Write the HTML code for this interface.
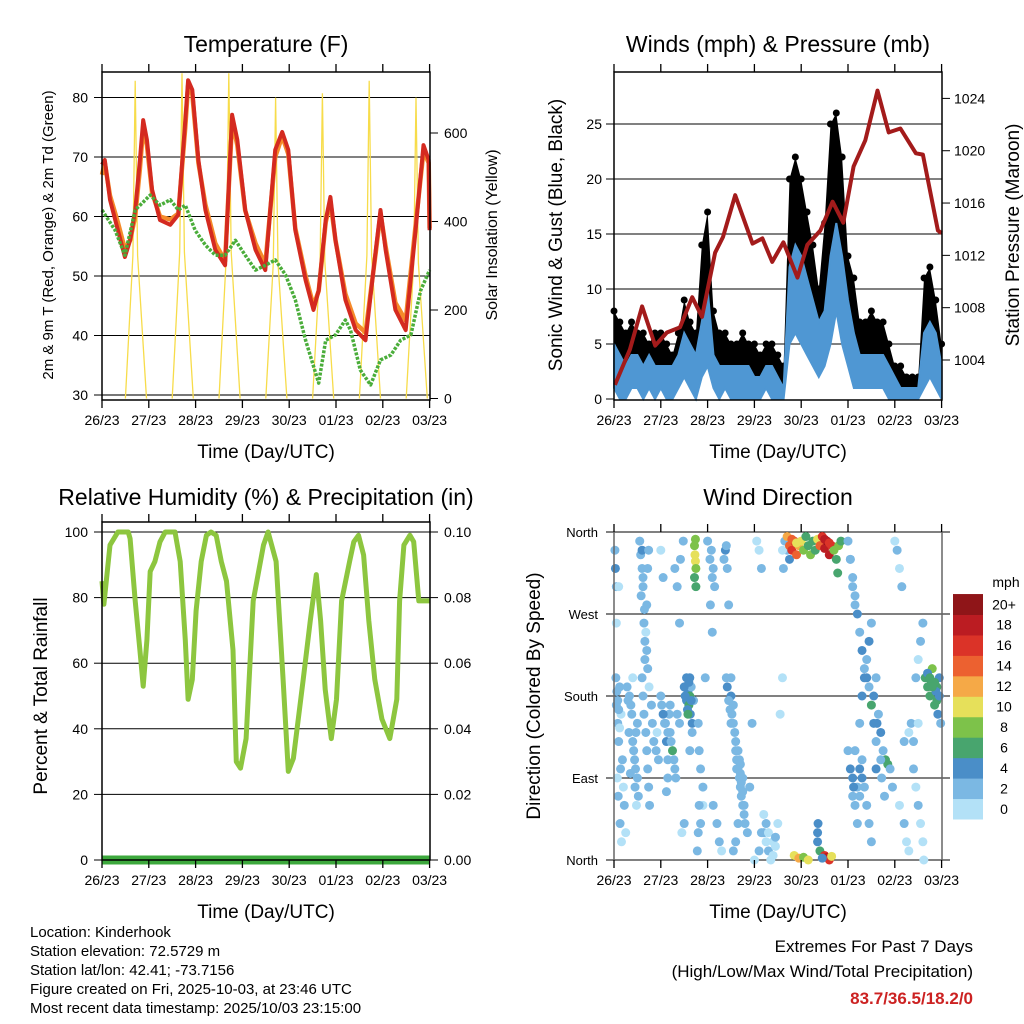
<!DOCTYPE html>
<html><head><meta charset="utf-8"><style>
html,body{margin:0;padding:0;background:#fff;}
svg{display:block;font-family:"Liberation Sans",Arial,sans-serif;}
</style></head><body>
<svg id="s" width="1024" height="1024" viewBox="0 0 1024 1024" xmlns="http://www.w3.org/2000/svg">
<rect x="0" y="0" width="1024" height="1024" fill="#fff"/>
<g font-size="23" text-anchor="middle" fill="#000">
<text x="266" y="52">Temperature (F)</text>
<text x="778" y="52">Winds (mph) &amp; Pressure (mb)</text>
<text x="266" y="505">Relative Humidity (%) &amp; Precipitation (in)</text>
<text x="778" y="505">Wind Direction</text>
</g>
<g font-size="19" text-anchor="middle">
<text x="266" y="458">Time (Day/UTC)</text>
<text x="778" y="458">Time (Day/UTC)</text>
<text x="266" y="918">Time (Day/UTC)</text>
<text x="778" y="918">Time (Day/UTC)</text>
<text transform="translate(53,235) rotate(-90)" font-size="15">2m &amp; 9m T (Red, Orange) &amp; 2m Td (Green)</text>
<text transform="translate(497,235) rotate(-90)" font-size="16">Solar Insolation (Yellow)</text>
<text transform="translate(562,235) rotate(-90)">Sonic Wind &amp; Gust (Blue, Black)</text>
<text transform="translate(1019,235) rotate(-90)">Station Pressure (Maroon)</text>
<text transform="translate(47,696) rotate(-90)">Percent &amp; Total Rainfall</text>
<text transform="translate(540,696) rotate(-90)">Direction (Colored By Speed)</text>
</g>
<g font-size="15">
<text x="30" y="937">Location: Kinderhook</text>
<text x="30" y="956">Station elevation: 72.5729 m</text>
<text x="30" y="975">Station lat/lon: 42.41; -73.7156</text>
<text x="30" y="994">Figure created on Fri, 2025-10-03, at 23:46 UTC</text>
<text x="30" y="1013">Most recent data timestamp: 2025/10/03 23:15:00</text>
</g>
<g font-size="17" text-anchor="end">
<text x="973" y="952">Extremes For Past 7 Days</text>
<text x="973" y="977">(High/Low/Max Wind/Total Precipitation)</text>
<text x="973" y="1004" fill="#cc2222" font-weight="bold">83.7/36.5/18.2/0</text>
</g>
<g id="charts"></g>
</svg>
<script>
const dayLabels=["26/23","27/23","28/23","29/23","30/23","01/23","02/23","03/23"];
const tempT=[0,.06,.17,.34,.49,.6,.71,.81,.88,.96,1.07,1.24,1.46,1.63,1.78,1.84,1.93,2.06,2.21,2.42,2.63,2.78,2.89,3.06,3.28,3.49,3.7,3.85,3.98,4.13,4.35,4.52,4.63,4.78,4.88,4.99,5.2,5.42,5.63,5.85,5.95,6.06,6.27,6.49,6.7,6.87,6.98,7];
const tempRed=[68.7,69.5,62.8,57.7,53.2,56,61.1,69.5,76.2,72.9,64.5,59.4,58.6,60.3,76.2,82.9,81.3,69.5,61.1,54.4,51.8,77.1,72.9,61.1,54.4,51,71.2,74.2,71.2,57.7,49.3,44.3,47.6,59.4,63.3,56,46,40.9,39.2,54.4,61.1,54.4,44.3,40.9,57.7,72,69.5,57.7];
const tempOrange=[67,69,63.5,59,54.5,56,60,68,75,72,64,60,59.5,60.5,75,82,80.5,69,62,55.5,52.5,76,72,61,55.5,52,70,73.5,70.5,58,50,45,47.5,59,62.5,56,47,42,40.5,54,60.5,55,45.5,42.5,58.5,71,69,58];
const dewT=[0,.28,.49,.71,1.03,1.24,1.46,1.63,1.78,1.99,2.21,2.42,2.63,2.85,3.06,3.28,3.49,3.7,3.92,4.13,4.35,4.63,4.78,4.99,5.2,5.31,5.52,5.74,5.95,6.17,6.38,6.6,6.81,7];
const dewVal=[61.1,57.7,53.5,61.1,63.6,61.9,62.8,61.1,61.9,57.7,55.2,53.5,53.5,56,53.5,51,51.8,52.7,50.2,46,39.2,32,39.2,40.1,42.6,40.9,34.2,31.7,35.9,36.7,39.2,40.1,47.6,51];
const solarPeakDay=[0,1,2,3,4,5,6];
const solarPeak=[718,735,735,680,690,718,680];
const tempTicks=[30,40,50,60,70,80];
const solarTicks=[0,200,400,600];
const gust=[8,7,6,7,6,6,5,6, 6,5,4,6,9,7,6,14, 17,8,6,6,5,5,6,5, 5,4,5,5,4,3,20,22, 20,17,14,10,16,25,26,22, 13,11,7,7,8,7,7,5, 3,3,2,2,2,11,12,9,5];
const windHi=[5,4,3,4,4,3,4,3, 3,3,3,4,6,5,4,7, 10,4,3,3,3,3,3,3, 2,2,3,3,2,1,12,14, 13,11,9,7,8,13,16,13, 9,6,4,4,4,4,4,3, 2,1,1,1,1,6,7,6,3];
const windLo=[1,0,0,1,1,0,1,0, 1,0,0,1,2,1,0,2, 3,1,0,1,0,0,0,0, 0,0,1,0,0,0,5,6, 5,4,3,2,3,5,8,5, 3,1,1,1,1,1,1,0, 0,0,0,0,0,1,2,1,0];
const presT=[.02,.34,.6,.88,1.13,1.41,1.67,1.88,2.16,2.33,2.59,2.96,3.17,3.38,3.62,3.92,4.13,4.41,4.67,4.9,5.12,5.37,5.63,5.87,6.12,6.45,6.6,6.92,7];
const presVal=[1002.1,1004.8,1008.1,1005.1,1006.1,1006.5,1008.8,1007.3,1012.2,1013.4,1016.6,1012.9,1013.3,1011.5,1013,1010.3,1012.8,1013.9,1016.1,1014.5,1018.8,1020.8,1024.6,1021.4,1021.7,1019.8,1019.7,1013.9,1013.7];
const windTicks=[0,5,10,15,20,25];
const presTicks=[1004,1008,1012,1016,1020,1024];
const rhT=[0,.04,.17,.34,.56,.6,.71,.81,.88,.96,1.03,1.13,1.24,1.35,1.56,1.67,1.78,1.84,1.93,2.01,2.12,2.23,2.33,2.44,2.55,2.66,2.8,2.87,2.96,3.08,3.23,3.45,3.55,3.72,3.87,3.98,4.09,4.3,4.45,4.58,4.67,4.77,4.9,5.01,5.12,5.29,5.38,5.48,5.59,5.7,5.83,5.98,6.15,6.3,6.36,6.45,6.58,6.66,6.77,7];
const rhVal=[85,78,96,100,100,98,79,64,53,67,88,91,97,100,100,91,67,49,55,76,91,99,100,99,91,85,64,30,28,37,79,96,100,91,55,27,31,55,73,87,73,52,37,49,79,91,97,99,93,73,55,43,37,49,79,96,99,97,79,79];
const precipT=[0,7];
const precipVal=[0,0];
const rhTicks=[0,20,40,60,80,100];
const rainTicks=["0.00","0.02","0.04","0.06","0.08","0.10"];
const dirNames=["North","East","South","West","North"];
const dirTicks=[0,90,180,270,360];
const speedBins=["0","2","4","6","8","10","12","14","16","18","20+"];
const dirPts=[
[.02,340,3],[.03,320,5],[.05,300,2],[.05,170,2],[.08,150,3],[.1,130,2],[.12,190,3],[.15,160,1],[.18,110,2],[.2,80,1],[.22,60,2],[.25,30,1],[.3,175,2],[.32,140,3],[.35,95,3],[.38,160,2],[.4,200,1],[.42,120,2],[.45,80,2],[.48,60,1],[.5,150,2],
[.55,350,2],[.57,335,3],[.6,320,2],[.62,300,2],[.65,275,2],[.68,250,1],[.7,230,2],[.72,210,2],[.75,190,1],[.8,170,2],[.82,150,3],[.85,130,2],[.9,120,2],[.92,140,1],[.95,110,3],[.6,340,4],[.62,310,2],[.58,290,3],[.64,260,2],[.66,240,3],
[.04,200,2],[.06,185,3],[.08,175,2],[.1,165,2],[.12,145,1],[.14,100,2],[.07,90,1],[.09,70,2],[.13,40,2],[.16,20,1],[.05,260,1],[.1,300,1],
[.28,190,2],[.33,180,3],[.36,170,2],[.4,130,3],[.44,110,2],[.46,100,3],[.5,90,2],[.52,70,2],[.47,140,2],
[.6,200,2],[.62,180,2],[.64,160,3],[.68,140,2],[.7,120,2],[.72,100,3],[.74,80,2],[.76,60,2],[.66,220,3],[.7,280,2],[.72,320,3],[.74,340,2],
[1,340,1],[1.05,310,2],[1.1,150,2],[1.12,130,4],[1.15,110,2],[1.18,160,3],[1.2,140,2],[1.25,120,6],[1.3,100,3],[1.35,160,2],[1.4,150,3],[1.45,30,1],[1.5,40,2],[1.55,175,4],[1.58,185,5],[1.6,170,6],[1.62,200,4],[1.65,190,3],[1.63,160,5],[1.7,175,2],[1.67,140,3],[1.6,195,5],[1.62,180,7],[1.57,165,4],
[1,180,3],[1.02,170,2],[1.05,160,4],[1.08,150,3],[1.15,140,3],[1.2,170,3],[1.22,130,2],[1.28,110,3],[1.32,90,3],[1.15,90,2],[1.12,75,2],[1.5,190,4],[1.52,180,5],[1.55,200,4],[1.58,160,6],[1.65,175,5],[1.67,150,4],[1.62,120,3],[1.3,320,2],[1.35,300,2],[1.42,330,3],[1.48,350,2],[1.4,260,3],
[1.72,345,9],[1.73,335,10],[1.74,328,10],[1.75,320,9],[1.72,310,7],[1.75,300,7],[1.74,352,8],
[1.8,150,3],[1.82,120,2],[1.85,100,3],[1.9,80,2],[1.95,200,2],[1.9,60,1],[1.85,40,2],[1.82,60,2],[1.8,30,3],[1.78,10,2],
[2,350,2],[2.05,330,2],[2.1,310,3],[2.15,300,2],[2.12,60,2],[2.2,40,3],[2.25,20,2],[2.3,10,1],[2.35,330,3],[2.38,340,4],[2.4,345,3],[2.42,320,2],[2.45,280,3],[2.5,200,2],[2.5,180,4],[2.52,160,3],[2.55,150,3],[2.58,140,2],[2.6,120,3],[2.62,110,2],[2.65,100,3],[2.68,90,2],[2.7,80,3],[2.72,70,2],[2.75,60,2],[2.78,50,2],[2.8,40,2],[2.85,30,2],[2.9,80,2],[2.95,150,2],[2.55,170,2],[2.65,120,2],[2.75,90,3],[2.7,105,2],
[2.08,340,3],[2.12,320,2],[2.06,280,3],[2.1,250,2],[2.4,200,3],[2.42,190,4],[2.45,175,3],[2.48,165,3],[2.5,150,2],[2.6,130,3],[2.62,100,2],[2.68,110,3],[2.7,95,2],[2.72,85,2],[2.75,75,3],[2.78,60,2],[2.65,40,2],[2.6,20,2],[2.55,10,2],
[3,0,1],[3.05,350,1],[3.1,340,1],[3.15,320,2],[3.2,30,2],[3.25,20,1],[3.3,10,2],[3.35,0,1],[3.4,5,1],[3.45,15,1],[3.5,40,1],[3.55,160,1],[3.6,200,1],[3.65,350,2],[3.7,340,3],[3.75,330,4],
[3.1,10,2],[3.15,30,2],[3.2,50,1],[3.25,40,2],[3.3,30,1],[3.4,20,1],[3.45,25,2],[3.6,340,1],[3.62,320,2],[3.7,350,2],
[3.7,355,12],[3.75,345,14],[3.8,340,16],[3.85,350,17],[3.9,335,14],[3.95,345,12],[4,350,10],[4.05,340,8],[4.1,355,7],[4.15,345,6],[4.2,335,8],[4.25,350,6],[4.3,340,6],[4.35,352,11],[4.4,345,14],[4.45,355,17],[4.5,342,18],[4.55,350,20],[4.6,335,19],[4.65,345,16],[4.7,340,8],[4.75,330,6],[4.8,345,8],[4.85,350,7],[4.78,315,6],[3.8,352,14],[3.9,348,10],[4.5,352,19],[4.6,348,17],
[3.85,5,11],[3.95,2,12],[4.05,3,8],[4.15,0,10],[4.35,20,5],[4.35,30,4],[4.36,40,4],[4.4,10,7],[4.5,5,16],[4.55,3,18],[4.6,0,17],[4.65,4,10],[4.45,2,5],
[5,350,2],[5.05,330,2],[5.1,310,3],[5.15,290,2],[5.2,270,4],[5.25,250,3],[5.3,230,4],[5.35,210,3],[5.4,200,4],[5.45,190,3],[5.5,170,6],[5.55,150,5],[5.6,130,3],[5.25,100,4],[5.3,90,4],[5.35,80,3],[5.4,60,2],[5.45,40,2],[5.5,20,2],[5.1,70,3],[5.15,120,2],[5.6,100,4],[5.65,160,2],[5.7,140,4],[5.75,120,2],[5.8,110,6],[5.85,105,7],[5.9,100,2],[5.95,80,2],[5.2,80,3],[5.25,70,2],[5.3,110,3],
[5,120,3],[5.05,100,4],[5.1,90,4],[5.12,80,4],[5.15,60,3],[5.2,40,2],[5.25,150,3],[5.3,180,4],[5.35,200,4],[5.4,220,3],[5.45,240,4],[5.5,260,3],[5.55,180,4],[5.6,200,3],[5.62,150,4],[5.7,110,3],[5.72,90,2],[5.78,70,2],[5.05,330,3],[5.1,300,3],[5.15,280,2],
[6,350,1],[6.05,340,2],[6.1,320,1],[6.15,300,2],[6.1,60,1],[6.2,40,2],[6.25,20,1],[6.3,10,1],[6.35,150,2],[6.4,130,3],[6.45,200,2],[6.5,220,1],[6.55,240,2],[6.6,260,2],[6.65,200,6],[6.7,190,7],[6.75,180,6],[6.8,210,8],[6.85,170,6],[6.9,190,7],[6.92,160,4],[6.95,200,5],[6.98,150,3],[6.7,205,5],[6.78,195,6],[6.88,185,4],
[6.2,130,2],[6.3,140,1],[6.4,100,2],[6.45,80,1],[6.5,60,2],[6.55,40,1],[6.6,20,1],[6.62,0,1],[6.5,150,1],[6.85,195,6],[6.9,175,7],[6.95,180,5],[6.8,190,6],[6.75,200,7]
];
const speedColors=["#b3e1f7","#7bb8e3","#4a8ec8","#48a56e","#7dc24a","#e6e05a","#f5a947","#ec6130","#db3328","#bb1c22","#8f1518"];

const NS="http://www.w3.org/2000/svg";
const root=document.getElementById('charts');
function mk(tag,attrs,parent){const e=document.createElementNS(NS,tag);for(const k in attrs)e.setAttribute(k,attrs[k]);(parent||root).appendChild(e);return e;}
function txt(x,y,s,anchor,size,parent){const e=mk('text',{x:x,y:y,'text-anchor':anchor,'font-size':size},parent);e.textContent=s;return e;}
function poly(xs,ys){return xs.map((x,i)=>x.toFixed(1)+','+ys[i].toFixed(1)).join(' ');}

function frame(name){
  const g=mk('g',{});
  
  
  return g;
}
function timeAxis(g,x0,y0,y1,px){
  for(let i=0;i<dayLabels.length;i++){
    const x=x0+i*px;
    mk('line',{x1:x,y1:y1,x2:x,y2:y1+8,stroke:'#000','stroke-width':1.3},g);
    mk('line',{x1:x,y1:y0,x2:x,y2:y0-8,stroke:'#000','stroke-width':1.3},g);
    const t=txt(x,y1+25,dayLabels[i],'middle',14,g);
    
    
  }
}
const PX=46.8;

/* ---------- Panel 1: Temperature ---------- */
(function(){
  const x0=102,x1=430,y0=72,y1=400;
  const g=frame('temperature-chart');
  const xs=t=>x0+t*PX, yT=v=>395-(v-30)*5.95, yS=v=>398.5-v*0.4425;
  for(const v of tempTicks){mk('line',{x1:x0,y1:yT(v),x2:x1,y2:yT(v),stroke:v==30?'#777':'#000','stroke-width':v==30?2:1},g);
    mk('line',{x1:x0-8,y1:yT(v),x2:x0,y2:yT(v),stroke:'#000'},g);
    const t=txt(x0-14,yT(v)+5,String(v),'end',14,g);}
  for(const v of solarTicks){mk('line',{x1:x1,y1:yS(v),x2:x1+8,y2:yS(v),stroke:'#000'},g);
    const t=txt(x1+14,yS(v)+5,String(v),'start',14,g);}
  for(let i=0;i<solarPeakDay.length;i++){const d=solarPeakDay[i],p=solarPeak[i];
    const l=mk('polyline',{points:poly([xs(d+.5),xs(d+.66),xs(d+.71),xs(d+.76),xs(d+.95)],[yS(0),yS(p*0.45),yS(p),yS(p*0.45),yS(0)]),fill:'none',stroke:'#f7dc4a','stroke-width':1.3},g);
    }
  const o=mk('polyline',{points:poly(tempT.map(xs),tempOrange.map(yT)),fill:'none',stroke:'#f58a2a','stroke-width':4.5,'stroke-linejoin':'round'},g);
  
  const r=mk('polyline',{points:poly(tempT.map(xs),tempRed.map(yT)),fill:'none',stroke:'#d42a20','stroke-width':4,'stroke-linejoin':'round'},g);
  
  const dl=mk('polyline',{points:poly(dewT.map(xs),dewVal.map(yT)),fill:'none',stroke:'#4aad3a','stroke-width':3.5,'stroke-dasharray':'3 1.5','stroke-linejoin':'round'},g);
  
  mk('rect',{x:x0,y:y0,width:x1-x0,height:y1-y0,fill:'none',stroke:'#000','stroke-width':1.5},g);
  timeAxis(g,x0,y0,y1,PX);
})();

/* ---------- Panel 2: Winds ---------- */
(function(){
  const x0=614,x1=942,y0=72,y1=400;
  const g=frame('winds-chart');
  const xs=t=>x0+t*PX, yW=v=>399-v*11, yP=p=>360-(p-1004)*13.08;
  for(const v of windTicks){if(v>0)mk('line',{x1:x0,y1:yW(v),x2:x1,y2:yW(v),stroke:'#000'},g);
    mk('line',{x1:x0-8,y1:yW(v),x2:x0,y2:yW(v),stroke:'#000'},g);
    const t=txt(x0-12,yW(v)+5,String(v),'end',14,g);}
  for(const p of presTicks){mk('line',{x1:x1,y1:yP(p),x2:x1+8,y2:yP(p),stroke:'#000'},g);
    const t=txt(x1+12,yP(p)+5,String(p),'start',14,g);}
  const wt=gust.map((_,i)=>i*7/(gust.length-1));
  const gp=mk('polygon',{points:poly(wt.map(xs).concat(wt.map(xs).reverse()),gust.map(yW).concat(windLo.map(yW).reverse())),fill:'#000'},g);
  
  for(let i=0;i<gust.length;i++){const c=mk('circle',{cx:xs(wt[i]),cy:yW(gust[i]),r:3.5,fill:'#000'},g);
    }
  const wp=mk('polygon',{points:poly(wt.map(xs).concat(wt.map(xs).reverse()),windHi.map(yW).concat(windLo.map(yW).reverse())),fill:'#4f97d3','stroke':'#4f97d3','stroke-width':2},g);
  
  const pl=mk('polyline',{points:poly(presT.map(xs),presVal.map(yP)),fill:'none',stroke:'#a31b1b','stroke-width':4,'stroke-linejoin':'round'},g);
  
  mk('rect',{x:x0,y:y0,width:x1-x0,height:y1-y0,fill:'none',stroke:'#000','stroke-width':1.5},g);
  timeAxis(g,x0,y0,y1,PX);
})();

/* ---------- Panel 3: Humidity ---------- */
(function(){
  const x0=102,x1=430,y0=522,y1=860;
  const g=frame('humidity-chart');
  const xs=t=>x0+t*PX, yR=v=>860-v*3.28;
  rhTicks.forEach((v,i)=>{if(v>0)mk('line',{x1:x0,y1:yR(v),x2:x1,y2:yR(v),stroke:'#000'},g);
    mk('line',{x1:x0-8,y1:yR(v),x2:x0,y2:yR(v),stroke:'#000'},g);
    mk('line',{x1:x1,y1:yR(v),x2:x1+8,y2:yR(v),stroke:'#000'},g);
    const t=txt(x0-14,yR(v)+5,String(v),'end',14,g);
    const t2=txt(x1+14,yR(v)+5,rainTicks[i],'start',14,g);});
  const rl=mk('polyline',{points:poly(rhT.map(xs),rhVal.map(yR)),fill:'none',stroke:'#8dc63f','stroke-width':5,'stroke-linejoin':'round'},g);
  
  const pr=mk('polyline',{points:poly(precipT.map(xs),precipVal.map(v=>860-v*3280)),fill:'none',stroke:'#3da83d','stroke-width':9},g);
  
  mk('rect',{x:x0,y:y0,width:x1-x0,height:y1-y0,fill:'none',stroke:'#000','stroke-width':1.5},g);
  timeAxis(g,x0,y0,y1,PX);
})();

/* ---------- Panel 4: Wind direction ---------- */
(function(){
  const x0=614,x1=942,y0=532,y1=860;
  const g=frame('wind-direction-chart');
  const xs=t=>x0+t*PX, yD=d=>860-d/360*328;
  dirTicks.forEach((d,i)=>{mk('line',{x1:x0-8,y1:yD(d),x2:x1+8,y2:yD(d),stroke:'#000'},g);
    const t=txt(x0-16,yD(d)+5,dirNames[i],'end',13,g);});
  for(const p of dirPts){const s=Math.min(10,Math.floor(p[2]/2));
    const c=mk('circle',{cx:xs(p[0]),cy:yD(p[1]),r:4.5,fill:speedColors[s]},g);
    
    }
  mk('line',{x1:x0,y1:y0,x2:x0,y2:y1,stroke:'#666','stroke-width':1.5},g);
  mk('line',{x1:x1,y1:y0,x2:x1,y2:y1,stroke:'#666','stroke-width':1.5},g);
  timeAxis(g,x0,y0,y1,PX);
  const lg=mk('g',{},g);
  
  
  const bh=20.45;
  for(let i=0;i<speedBins.length;i++){const y=819-(i+1)*bh;
    const r=mk('rect',{x:953,y:y,width:30,height:bh+0.5,fill:speedColors[i]},lg);
    
    const t=txt(1004,y+bh/2+5,speedBins[i],'middle',14,lg);}
  const u=txt(1006,587,'mph','middle',14,lg);
})();
</script>
</body></html>
